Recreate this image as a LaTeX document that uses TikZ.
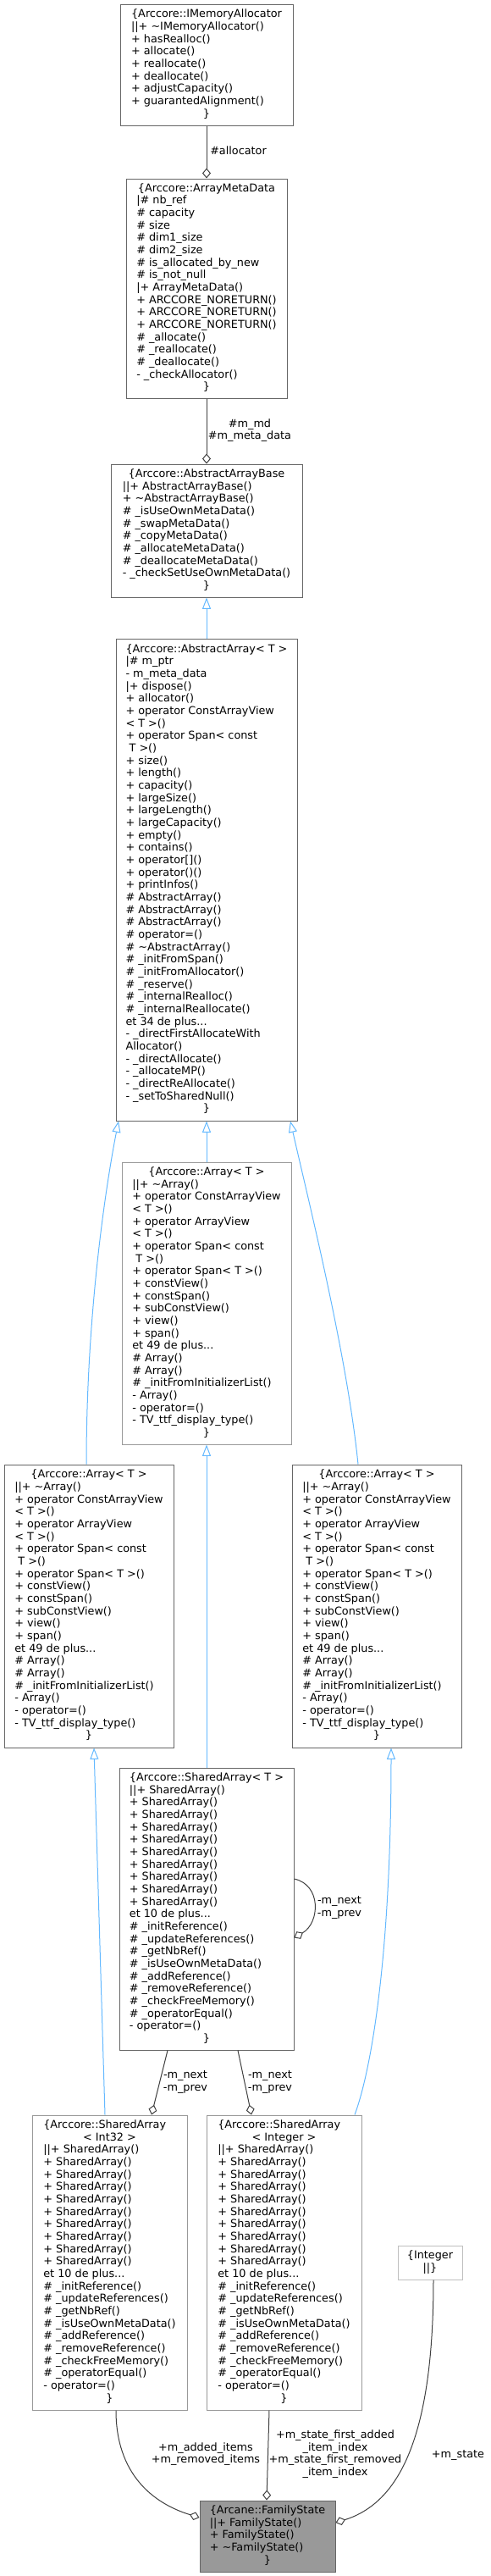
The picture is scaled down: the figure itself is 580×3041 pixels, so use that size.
\documentclass[tikz,border=0pt]{standalone}
\usepackage{fontspec}
\setmainfont{DejaVu Sans}
\usepackage{tikz}
\usetikzlibrary{arrows.meta,calc}
\usepackage{xcolor}
\definecolor{boxgray}{HTML}{666666}
\definecolor{tmplgray}{HTML}{999999}
\definecolor{undocgray}{HTML}{BFBFBF}
\definecolor{edgegray}{HTML}{404040}
\definecolor{inhblue}{HTML}{63B8FF}
\definecolor{famfill}{HTML}{999999}
\newcommand{\mfont}{\fontsize{9.6}{11}\selectfont}
\newcommand{\cl}[1]{\multicolumn{1}{@{}c@{}}{#1}}
\newcommand{\members}[1]{\begin{tabular}{@{}l@{}}#1\end{tabular}}
% body shared by the three Array<T> boxes
\newcommand{\arraymembers}{%
\cl{\{Arccore::Array< T >}\\
||+ \textasciitilde Array()\\
+ operator ConstArrayView\\
< T >()\\
+ operator ArrayView\\
< T >()\\
+ operator Span< const\\
\ T >()\\
+ operator Span< T >()\\
+ constView()\\
+ constSpan()\\
+ subConstView()\\
+ view()\\
+ span()\\
et 49 de plus...\\
\# Array()\\
\# Array()\\
\# \_initFromInitializerList()\\
- Array()\\
- operator=()\\
- TV\_ttf\_display\_type()\\
\cl{\}}}
% body shared by the SharedArray boxes
\newcommand{\sharedmembers}{%
||+ SharedArray()\\
+ SharedArray()\\
+ SharedArray()\\
+ SharedArray()\\
+ SharedArray()\\
+ SharedArray()\\
+ SharedArray()\\
+ SharedArray()\\
+ SharedArray()\\
+ SharedArray()\\
et 10 de plus...\\
\# \_initReference()\\
\# \_updateReferences()\\
\# \_getNbRef()\\
\# \_isUseOwnMetaData()\\
\# \_addReference()\\
\# \_removeReference()\\
\# \_checkFreeMemory()\\
\# \_operatorEqual()\\
- operator=()\\
\cl{\}}}

\begin{document}
\begin{tikzpicture}[x=0.75pt,y=-0.75pt,
  cls/.style={draw=boxgray,fill=white,line width=0.75pt,inner sep=0pt,font=\mfont},
  sz/.style 2 args={minimum width=#1*0.75pt,minimum height=#2*0.75pt},
  lab/.style={font=\mfont,align=center,inner sep=0pt},
  uses/.style={draw=edgegray,line width=0.75pt,-{Diamond[open,length=9pt,width=7.5pt]}},
  inherit/.style={draw=inhblue,line width=0.75pt,-{Triangle[open,length=10pt,width=7.5pt]}}]
\useasboundingbox (0,0) rectangle (580,3041);

% classes
\node[cls,sz={204}{143}] (alloc) at (244,76.5) {\members{%
\cl{\{Arccore::IMemoryAllocator}\\
||+ \textasciitilde IMemoryAllocator()\\
+ hasRealloc()\\
+ allocate()\\
+ reallocate()\\
+ deallocate()\\
+ adjustCapacity()\\
+ guarantedAlignment()\\
\cl{\}}}};
\node[cls,sz={190}{259}] (meta) at (244,340.5) {\members{%
\cl{\{Arccore::ArrayMetaData}\\
|\# nb\_ref\\
\# capacity\\
\# size\\
\# dim1\_size\\
\# dim2\_size\\
\# is\_allocated\_by\_new\\
\# is\_not\_null\\
|+ ArrayMetaData()\\
+ ARCCORE\_NORETURN()\\
+ ARCCORE\_NORETURN()\\
+ ARCCORE\_NORETURN()\\
\# \_allocate()\\
\# \_reallocate()\\
\# \_deallocate()\\
- \_checkAllocator()\\
\cl{\}}}};
\node[cls,sz={226}{157}] (base) at (244,626.5) {\members{%
\cl{\{Arccore::AbstractArrayBase}\\
||+ AbstractArrayBase()\\
+ \textasciitilde AbstractArrayBase()\\
\# \_isUseOwnMetaData()\\
\# \_swapMetaData()\\
\# \_copyMetaData()\\
\# \_allocateMetaData()\\
\# \_deallocateMetaData()\\
- \_checkSetUseOwnMetaData()\\
\cl{\}}}};
\node[cls,sz={214}{569}] (abs) at (244,1038.5) {\members{%
\cl{\{Arccore::AbstractArray< T >}\\
|\# m\_ptr\\
- m\_meta\_data\\
|+ dispose()\\
+ allocator()\\
+ operator ConstArrayView\\
< T >()\\
+ operator Span< const\\
\ T >()\\
+ size()\\
+ length()\\
+ capacity()\\
+ largeSize()\\
+ largeLength()\\
+ largeCapacity()\\
+ empty()\\
+ contains()\\
+ operator[]()\\
+ operator()()\\
+ printInfos()\\
\# AbstractArray()\\
\# AbstractArray()\\
\# AbstractArray()\\
\# operator=()\\
\# \textasciitilde AbstractArray()\\
\# \_initFromSpan()\\
\# \_initFromAllocator()\\
\# \_reserve()\\
\# \_internalRealloc()\\
\# \_internalReallocate()\\
et 34 de plus...\\
- \_directFirstAllocateWith\\
Allocator()\\
- \_directAllocate()\\
- \_allocateMP()\\
- \_directReAllocate()\\
- \_setToSharedNull()\\
\cl{\}}}};
\node[cls,draw=tmplgray,sz={200}{333}] (arr) at (244,1538.5) {\members{\arraymembers}};
\node[cls,sz={200}{334}] (arrL) at (105,1896) {\members{\arraymembers}};
\node[cls,sz={200}{334}] (arrR) at (445,1896) {\members{\arraymembers}};
\node[cls,sz={206}{333}] (shared) at (244,2253.5) {\members{%
\cl{\{Arccore::SharedArray< T >}\\
\sharedmembers}};
\node[cls,draw=tmplgray,sz={183}{348}] (sInt) at (129.5,2671) {\members{%
\{Arccore::SharedArray\\
\cl{< Int32 >}\\
\sharedmembers}};
\node[cls,draw=tmplgray,sz={183}{348}] (sInteger) at (335.5,2671) {\members{%
\{Arccore::SharedArray\\
\cl{< Integer >}\\
\sharedmembers}};
\node[cls,draw=undocgray,sz={76}{40}] (integer) at (508,2671) {\members{%
\cl{\{Integer}\\
\cl{||\}}}};
\node[cls,fill=famfill,sz={160}{84}] (fam) at (316,2994) {\members{%
\cl{\{Arcane::FamilyState}\\
||+ FamilyState()\\
+ FamilyState()\\
+ \textasciitilde FamilyState()\\
\cl{\}}}};

% inheritance
\draw[inherit] (abs.north) -- (base.south);
\draw[inherit] (arr.north) -- (abs.south);
\draw[inherit] ($(arrL.north)+(-3,0)$) .. controls (102,1550) and (125,1400) .. ($(abs.south)+(-104,0)$);
\draw[inherit] ($(arrR.north)+(-22,0)$) .. controls (410,1600) and (365,1420) .. ($(abs.south)+(99,0)$);
\draw[inherit] (shared.north) -- (arr.south);
\draw[inherit] ($(sInt.north)+(-5.5,0)$) -- ($(arrL.south)+(6,0)$);
\draw[inherit] ($(sInteger.north)+(83.5,0)$) .. controls (440,2440) and (462,2300) .. ($(arrR.south)+(17,0)$);

% usage
\draw[uses] (alloc.south) -- (meta.north);
\draw[uses] (meta.south) -- (base.north);
\draw[uses] ($(shared.east)+(0,-35.5)$) .. controls (380,2225) and (378,2270) .. ($(shared.east)+(0,34)$);
\draw[uses] ($(shared.south)+(-46,0)$) -- ($(sInt.north)+(49.5,0)$);
\draw[uses] ($(shared.south)+(37,0)$) -- ($(sInteger.north)+(-38.5,0)$);
\draw[uses] ($(sInt.south)+(7.5,0)$) .. controls (137,2920) and (180,2955) .. ($(fam.west)+(0,-22)$);
\draw[uses] ($(sInteger.south)+(-17.5,0)$) -- ($(fam.north)+(-1,0)$);
\draw[uses] ($(integer.south)+(4,0)$) .. controls (512,2880) and (470,2955) .. ($(fam.east)+(0,-16)$);

% labels
\node[lab,anchor=west] (lAlloc) at (248,178) {\#allocator};
\node[lab] (lMeta) at (295,508) {\#m\_md\\\#m\_meta\_data};
\node[lab] (lLoop) at (401,2252) {-m\_next\\-m\_prev};
\node[lab] (lNextL) at (219,2458) {-m\_next\\-m\_prev};
\node[lab] (lNextR) at (319,2458) {-m\_next\\-m\_prev};
\node[lab] (lItems) at (243,2897) {+m\_added\_items\\+m\_removed\_items};
\node[lab] (lIndex) at (396,2897) {+m\_state\_first\_added\\\_item\_index\\+m\_state\_first\_removed\\\_item\_index};
\node[lab] (lState) at (541,2898) {+m\_state};
\end{tikzpicture}
\end{document}
